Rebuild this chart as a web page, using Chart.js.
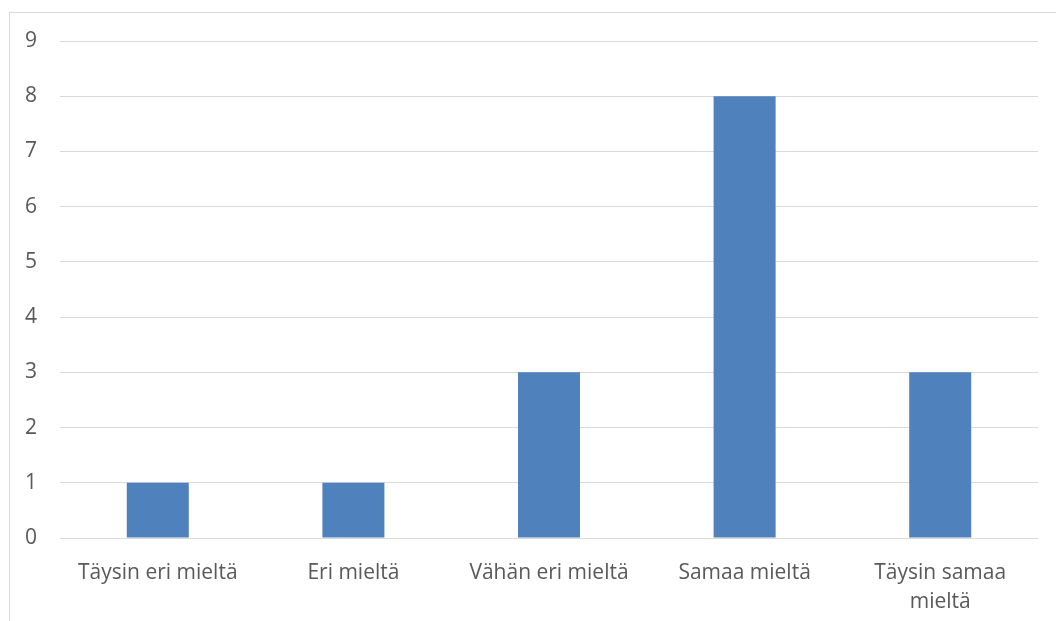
<!DOCTYPE html>
<html>
<head>
<meta charset="utf-8">
<script src="https://cdn.jsdelivr.net/npm/chart.js@4/dist/chart.umd.min.js"></script>
<style>
  body { margin: 0; background: #fff; }
  #frame {
    position: absolute; left: 9px; top: 12px; width: 1047px; height: 609px;
    border-left: 1px solid #d9d9d9; border-top: 1px solid #d9d9d9;
  }
  #wrap { position: absolute; left: 0; top: 0; width: 1056px; height: 621px; }
</style>
</head>
<body>
<div id="frame"></div>
<div id="wrap"><canvas id="chart"></canvas></div>
<script>
// Data
const categories = ['Täysin eri mieltä', 'Eri mieltä', 'Vähän eri mieltä', 'Samaa mieltä', ['Täysin samaa', 'mieltä']];
const counts = [1, 1, 3, 8, 3];
const yTicks = [0, 1, 2, 3, 4, 5, 6, 7, 8, 9];

const textColor = '#595959';
const gridColor = '#d9d9d9';
const fontFamily = "'Open Sans', 'Liberation Sans', sans-serif";

const ctx = document.getElementById('chart').getContext('2d');
const chart = new Chart(ctx, {
  type: 'bar',
  data: {
    labels: categories,
    datasets: [{
      data: counts,
      backgroundColor: '#4f81bd',
      borderWidth: 0,
      barPercentage: 0.317,
      categoryPercentage: 1,
    }],
  },
  options: {
    responsive: true,
    maintainAspectRatio: false,
    animation: false,
    layout: { padding: { left: 0, right: 18, top: 41, bottom: 0 } },
    plugins: {
      legend: { display: false },
      tooltip: { enabled: false },
    },
    scales: {
      x: {
        grid: { display: false },
        border: { display: false },
        ticks: {
          color: textColor,
          font: { family: fontFamily, size: 21, lineHeight: 1.38 },
          maxRotation: 0,
          autoSkip: false,
          padding: 13,
        },
        afterFit: (s) => { s.height = 83; },
      },
      y: {
        min: 0,
        max: 9,
        afterBuildTicks: (s) => { s.ticks = yTicks.map(v => ({ value: v })); },
        grid: { color: gridColor, lineWidth: 1, drawTicks: false },
        border: { display: false },
        ticks: {
          color: textColor,
          font: { family: fontFamily, size: 21 },
          padding: 23,
        },
        afterFit: (s) => { s.width = 60; },
      },
    },
  },
});
</script>
</body>
</html>
